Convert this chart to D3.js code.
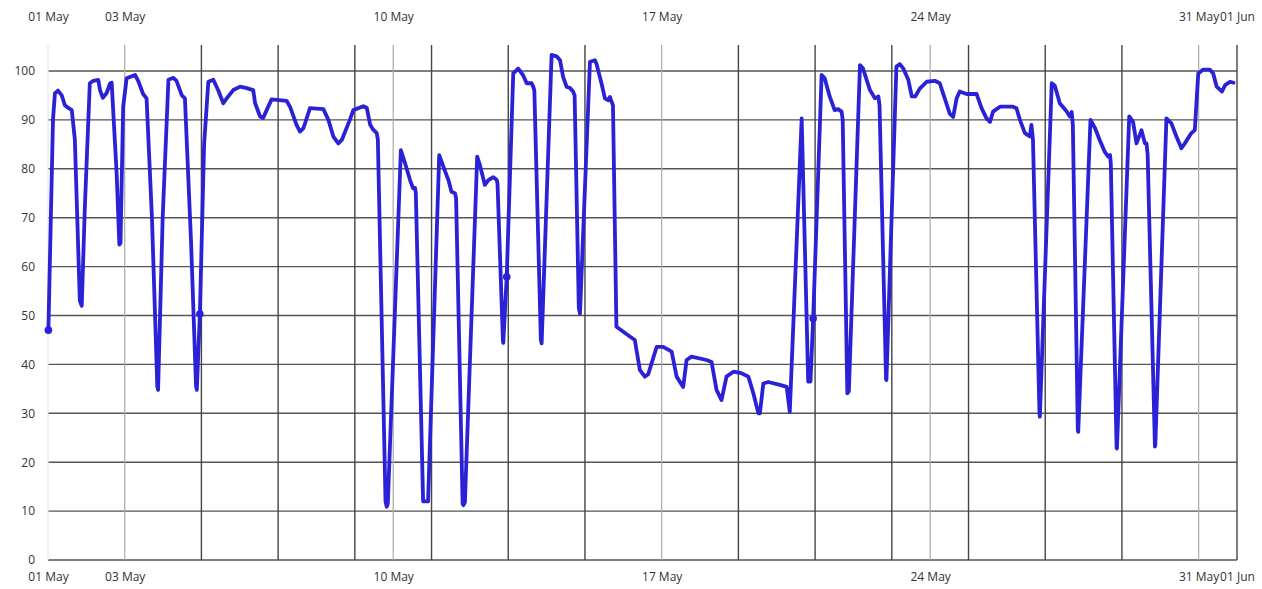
<!DOCTYPE html>
<html>
<head>
<meta charset="utf-8">
<script src="https://cdn.jsdelivr.net/npm/d3@7"></script>
<style>
  html, body { margin: 0; padding: 0; background: #fff; }
  svg { display: block; }
  text { font-family: "Open Sans", "Noto Sans", sans-serif; }
</style>
</head>
<body>
<svg id="chart" width="1262" height="589"></svg>
<script>
// ---- data (day offsets from 01 May, values) ----
const startDate = "2023-05-01";
const dayOffsets = [
  0.01,0.13,0.18,0.26,0.36,0.44,0.52,0.62,0.70,0.83,0.88,0.96,1.09,1.18,1.31,1.36,1.43,1.53,1.62,1.66,
  1.79,1.86,1.89,1.96,2.05,2.27,2.35,2.48,2.57,2.71,2.85,2.87,2.99,3.14,3.27,3.35,3.49,3.57,3.73,3.86,
  3.88,3.96,4.07,4.18,4.31,4.44,4.57,4.66,4.83,5.01,5.18,5.35,5.40,5.53,5.61,5.70,5.83,6.22,6.31,6.48,
  6.57,6.66,6.83,7.18,7.31,7.44,7.57,7.66,7.87,7.96,8.22,8.31,8.40,8.48,8.57,8.60,8.80,8.83,8.86,9.20,
  9.31,9.44,9.52,9.57,9.59,9.78,9.91,10.20,10.31,10.44,10.52,10.61,10.64,10.81,10.83,10.87,11.19,11.26,11.39,11.48,
  11.61,11.70,11.72,11.86,11.87,11.96,12.13,12.26,12.39,12.48,12.61,12.65,12.68,12.85,12.87,13.13,13.26,13.35,13.43,13.52,
  13.61,13.69,13.73,13.84,13.87,14.13,14.26,14.30,14.43,14.52,14.61,14.65,14.69,14.73,14.82,15.17,15.30,15.43,15.56,15.65,
  15.87,16.04,16.26,16.39,16.56,16.65,16.78,17.17,17.30,17.43,17.56,17.69,17.87,18.08,18.26,18.39,18.52,18.56,18.65,18.78,
  19.08,19.26,19.34,19.65,19.82,19.88,19.95,20.17,20.25,20.38,20.51,20.60,20.69,20.72,20.84,20.88,21.17,21.25,21.43,21.56,
  21.65,21.68,21.85,21.86,22.12,22.21,22.30,22.43,22.52,22.61,22.73,22.91,23.12,23.25,23.38,23.51,23.60,23.69,23.77,23.95,
  24.21,24.34,24.47,24.56,24.64,24.82,25.16,25.25,25.34,25.47,25.60,25.64,25.68,25.85,25.86,26.17,26.25,26.38,26.56,26.64,
  26.69,26.72,26.85,26.86,27.18,27.30,27.42,27.55,27.64,27.69,27.71,27.86,27.87,28.19,28.29,28.38,28.51,28.60,28.64,28.67,
  28.86,28.87,29.16,29.29,29.42,29.55,29.64,29.81,29.90,29.99,30.12,30.29,30.38,30.47,30.61,30.69,30.82,30.91
];
const values = [
  47,90,95.4,96,95,93,92.5,92,86,53,52,72,97.5,98,98.2,96,94.5,95.5,97.5,97.6,
  79,64.5,64.8,92.7,98.5,99.2,98,95.3,94.4,70,35.5,34.8,70,98.2,98.6,98,95,94.4,65,35.5,
  34.8,50.3,85,97.8,98.2,96,93.4,94.4,96.1,96.8,96.5,96.1,93.4,90.7,90.4,92,94.2,93.9,92.7,89,
  87.6,88.3,92.4,92.2,90,86.6,85.2,85.9,90,92,92.8,92.5,89,88,87.3,86,12,10.9,11.5,83.8,
  81.1,77.7,76,76.1,75,12,12,82.8,80.4,77.7,75.3,75,74,11.5,11.2,11.8,82.5,80.8,76.7,77.7,
  78.3,77.7,77,45,44.4,57.9,99.5,100.5,99.1,97.5,97.5,96.8,96,45,44.3,103.3,103,102.2,98.8,96.8,
  96.5,95.8,95,51.5,50.4,101.9,102.2,101.5,97.5,94.4,94,94.7,93.8,93,47.7,45.7,45,38.9,37.5,38,
  43.6,43.6,42.6,37.5,35.4,40.9,41.6,40.9,40.5,34.8,32.7,37.5,38.5,38.2,37.5,34.1,30,30,36.1,36.4,
  35.8,35.4,30.3,90.3,36.5,36.5,49.4,99.2,98.5,94.8,92,92.2,91.7,90,34.1,34.5,101.2,100.5,96.1,94.4,
  94.8,93,37,36.8,100.9,101.4,100.5,98.2,94.8,94.8,96.4,97.8,98,97.5,94.4,91.3,90.6,94.4,95.8,95.3,
  95.3,92.4,90.3,89.6,91.7,92.7,92.7,92.4,90,87.3,86.6,89,86,30,29.3,97.5,97,93.4,91.7,90.7,
  91.6,89,26.5,26.2,90,88.3,85.9,83.5,82.5,82.8,81,23,22.8,90.7,89.6,85.2,87.9,85.2,85.2,83,
  23.2,23.5,90.3,89.3,86.6,84.2,85.2,87.3,87.9,99.5,100.3,100.3,99.5,96.8,95.8,97.1,97.8,97.6
];
// indices of points drawn with a dot marker
const markerIndices = [0, 41, 105, 166];
// tick labels (day offsets) and grid lines
const labelTickDays = [0, 2, 9, 16, 23, 30, 31];
const lightGridDays = [0, 2, 9, 16, 23, 30];
const darkGridDays = [4, 6, 8, 10, 12, 14, 18, 20, 22, 24, 26, 28, 31];
const yTicks = [0, 10, 20, 30, 40, 50, 60, 70, 80, 90, 100];

// ---- layout ----
const base = new Date(startDate + "T00:00:00Z");
const toDate = d => new Date(base.getTime() + d * 86400000);
const x = d3.scaleUtc().domain([toDate(0), toDate(31)]).range([48, 1237]);
const y = d3.scaleLinear().domain([0, 100]).range([560, 71]);
const topY = y(105.3);

const svg = d3.select("#chart");
const fmt = d3.utcFormat("%d %b");

// horizontal grid
svg.append("g")
  .selectAll("line").data(yTicks).join("line")
  .attr("x1", x(toDate(0))).attr("x2", x(toDate(31)))
  .attr("y1", d => y(d)).attr("y2", d => y(d))
  .attr("stroke", "#555").attr("stroke-width", 1.4);

// vertical grid — light (labelled days)
svg.append("g")
  .selectAll("line").data(lightGridDays).join("line")
  .attr("x1", d => x(toDate(d))).attr("x2", d => x(toDate(d)))
  .attr("y1", topY).attr("y2", y(0))
  .attr("stroke", d => d === 0 ? "#e6e6e6" : "#aaa").attr("stroke-width", 1.2);

// vertical grid — dark
svg.append("g")
  .selectAll("line").data(darkGridDays).join("line")
  .attr("x1", d => x(toDate(d))).attr("x2", d => x(toDate(d)))
  .attr("y1", topY).attr("y2", y(0))
  .attr("stroke", "#444").attr("stroke-width", 1.4);

// axes (labels only)
const tickDates = labelTickDays.map(toDate);
const styleAxis = g => {
  g.select(".domain").remove();
  g.selectAll("text").attr("fill", "#333").style("font-size", "12px");
};
svg.append("g").attr("transform", "translate(0,21)")
  .call(d3.axisTop(x).tickValues(tickDates).tickFormat(fmt).tickSize(0).tickPadding(0))
  .call(styleAxis);
svg.append("g").attr("transform", "translate(0,560)")
  .call(d3.axisBottom(x).tickValues(tickDates).tickFormat(fmt).tickSize(0).tickPadding(12))
  .call(styleAxis);
svg.append("g").attr("transform", "translate(48,0)")
  .call(d3.axisLeft(y).tickValues(yTicks).tickSize(0).tickPadding(13))
  .call(styleAxis);

// series
const pts = dayOffsets.map((d, i) => ({ t: toDate(d), v: values[i] }));
const line = d3.line().x(p => x(p.t)).y(p => y(p.v));
svg.append("path").datum(pts)
  .attr("d", line)
  .attr("fill", "none")
  .attr("stroke", "#2b21d6")
  .attr("stroke-width", 3.8)
  .attr("stroke-linejoin", "round")
  .attr("stroke-linecap", "round");

svg.append("g").selectAll("circle").data(markerIndices.map(i => pts[i])).join("circle")
  .attr("cx", p => x(p.t)).attr("cy", p => y(p.v)).attr("r", 3.8)
  .attr("fill", "#2b21d6");
</script>
</body>
</html>
